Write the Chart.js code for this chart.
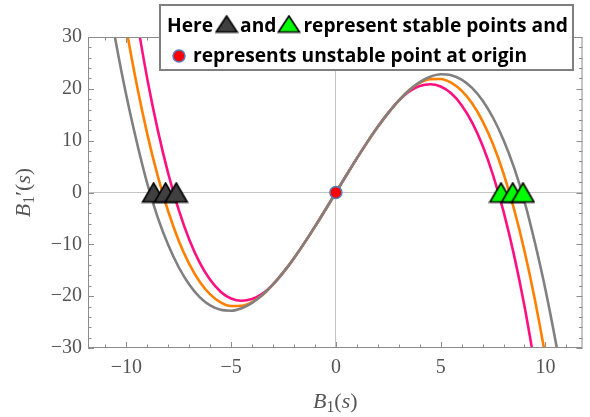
<!DOCTYPE html>
<html>
<head>
<meta charset="utf-8">
<title>B1 stability curves</title>
<script src="https://cdn.jsdelivr.net/npm/chart.js"></script>
<style>
  html, body { margin: 0; padding: 0; background: #fff; }
  #chart { display: block; }
</style>
</head>
<body>
<canvas id="chart" width="590" height="417"></canvas>
<script>
// values
const xs = [-11, -10.5, -10, -9.5, -9, -8.5, -8, -7.5, -7, -6.5, -6, -5.5, -5, -4.5, -4, -3.5, -3, -2.5, -2, -1.5, -1, -0.5,
  0, 0.5, 1, 1.5, 2, 2.5, 3, 3.5, 4, 4.5, 5, 5.5, 6, 6.5, 7, 7.5, 8, 8.5, 9, 9.5, 10, 10.5, 11];
const grayCurve = [40.5, 29.0, 18.7, 9.7, 1.7, -4.86, -10.15, -14.42, -17.74, -20.18, -21.79, -22.64, -22.80, -22.32, -21.28, -19.73, -17.73, -15.36, -12.67, -9.72, -6.59, -3.32,
  0, 3.32, 6.59, 9.72, 12.67, 15.36, 17.73, 19.73, 21.28, 22.32, 22.80, 22.64, 21.79, 20.18, 17.74, 14.42, 10.15, 4.86, -1.7, -9.7, -18.7, -29.0, -40.5];
const orangeCurve = [null, 44.0, 31.63, 20.73, 11.26, 3.16, -3.67, -9.29, -13.77, -17.20, -19.65, -21.20, -21.91, -21.87, -21.15, -19.78, -17.73, -15.36, -12.67, -9.72, -6.59, -3.32,
  0, 3.32, 6.59, 9.72, 12.67, 15.36, 17.73, 19.78, 21.15, 21.87, 21.91, 21.20, 19.65, 17.20, 13.77, 9.29, 3.67, -3.16, -11.26, -20.73, -31.63, -44.0, null];
const pinkCurve = [null, null, null, 33.37, 21.91, 12.03, 3.63, -3.36, -9.05, -13.52, -16.85, -19.13, -20.45, -20.89, -20.55, -19.51, -17.73, -15.36, -12.67, -9.72, -6.59, -3.32,
  0, 3.32, 6.59, 9.72, 12.67, 15.36, 17.73, 19.51, 20.55, 20.89, 20.45, 19.13, 16.85, 13.52, 9.05, 3.36, -3.63, -12.03, -21.91, -33.37, null, null, null];
const stableLeft = [-8.70, -8.13, -7.62];
const stableRight = [7.88, 8.44, 8.93];
const unstable = [0];
const xTicks = [-10, -5, 0, 5, 10];
const yTicks = [-30, -20, -10, 0, 10, 20, 30];

const pts = arr => xs.map((x, i) => ({ x: x, y: arr[i] }));
const onAxis = arr => arr.map(x => ({ x: x, y: 0 }));
const minus = v => v < 0 ? '\u2212' + Math.abs(v) : String(v);

function triangle(fill, w, h) {
  const c = document.createElement('canvas');
  c.width = w + 3; c.height = h + 3;
  const g = c.getContext('2d');
  g.beginPath();
  g.moveTo(1.5 + w / 2, 1.5);
  g.lineTo(1.5 + w, 1.5 + h);
  g.lineTo(1.5, 1.5 + h);
  g.closePath();
  g.fillStyle = fill;
  g.fill();
  g.lineWidth = 1.6;
  g.strokeStyle = '#000';
  g.stroke();
  return c;
}
const darkTri = triangle('#404040', 22, 19);
const greenTri = triangle('#00ff00', 22, 19);

// mixed style axis label: B (italic) 1 (subscript) ...
function drawLabel(ctx, parts, size) {
  let total = 0;
  parts.forEach(p => {
    ctx.font = (p.it ? 'italic ' : '') + (p.sub ? size * 0.72 : size) + 'px "Liberation Serif"';
    p.w = ctx.measureText(p.t).width;
    total += p.w;
  });
  let x = -total / 2;
  parts.forEach(p => {
    ctx.font = (p.it ? 'italic ' : '') + (p.sub ? size * 0.72 : size) + 'px "Liberation Serif"';
    ctx.fillText(p.t, x, p.sub ? size * 0.25 : 0);
    x += p.w;
  });
}

const frame = {
  id: 'frame',
  afterDatasetsDraw(chart) {
    const { ctx, chartArea: a, scales: { x, y } } = chart;
    ctx.save();
    ctx.strokeStyle = '#8c8c8c';
    ctx.lineWidth = 1;
    ctx.strokeRect(a.left + 0.5, a.top + 0.5, a.right - a.left - 1, a.bottom - a.top - 1);
    ctx.beginPath();
    for (let v = -11; v <= 11; v++) {
      const px = Math.round(x.getPixelForValue(v)) + 0.5;
      const len = v % 5 === 0 ? 6 : 3.5;
      ctx.moveTo(px, a.bottom); ctx.lineTo(px, a.bottom - len);
      ctx.moveTo(px, a.top); ctx.lineTo(px, a.top + len);
    }
    for (let v = -30; v <= 30; v += 2) {
      const py = Math.round(y.getPixelForValue(v)) + 0.5;
      const len = v % 10 === 0 ? 6 : 3.5;
      ctx.moveTo(a.left, py); ctx.lineTo(a.left + len, py);
      ctx.moveTo(a.right, py); ctx.lineTo(a.right - len, py);
    }
    ctx.stroke();
    ctx.restore();
  },
  afterDraw(chart) {
    const ctx = chart.ctx;
    const a = chart.chartArea;
    ctx.save();
    ctx.fillStyle = '#555';
    ctx.textBaseline = 'middle';
    ctx.textAlign = 'left';
    ctx.translate((a.left + a.right) / 2, 402);
    drawLabel(ctx, [{ t: 'B', it: true }, { t: '1', sub: true }, { t: '(' }, { t: 's', it: true }, { t: ')' }], 22);
    ctx.restore();
    ctx.save();
    ctx.fillStyle = '#555';
    ctx.textBaseline = 'middle';
    ctx.translate(24, chart.scales.y.getPixelForValue(0));
    ctx.rotate(-Math.PI / 2);
    drawLabel(ctx, [{ t: 'B', it: true }, { t: '1', sub: true }, { t: '\u2032' }, { t: '(' }, { t: 's', it: true }, { t: ')' }], 22);
    ctx.restore();

    // legend box
    ctx.save();
    ctx.fillStyle = '#fff';
    ctx.fillRect(160, 5, 413, 65);
    ctx.strokeStyle = '#7f7f7f';
    ctx.lineWidth = 2;
    ctx.strokeRect(160, 5, 413, 65);
    ctx.fillStyle = '#000';
    ctx.font = 'bold 19.2px "Open Sans"';
    ctx.textBaseline = 'alphabetic';
    let cx = 167;
    const b1 = 32, b2 = 62;
    ctx.fillText('Here', cx, b1); cx += ctx.measureText('Here').width + 3;
    ctx.drawImage(triangle('#404040', 21, 16), cx - 1.5, b1 - 17.5); cx += 22 + 2;
    ctx.fillText('and', cx, b1); cx += ctx.measureText('and').width + 2;
    ctx.drawImage(triangle('#00ff00', 21, 16), cx - 1.5, b1 - 17.5); cx += 22 + 3;
    ctx.fillText('represent stable points and', cx, b1);
    ctx.beginPath();
    ctx.arc(179, 56, 6, 0, Math.PI * 2);
    ctx.fillStyle = '#ff0000';
    ctx.fill();
    ctx.lineWidth = 1.5;
    ctx.strokeStyle = '#4f81bd';
    ctx.stroke();
    ctx.fillStyle = '#000';
    ctx.fillText('represents unstable point at origin', 193, b2);
    ctx.restore();
  }
};

new Chart(document.getElementById('chart'), {
  type: 'line',
  data: {
    datasets: [
      { data: onAxis(unstable), showLine: false, pointStyle: 'circle', pointRadius: 6,
        pointBackgroundColor: '#ff0000', pointBorderColor: '#4f81bd', pointBorderWidth: 1.5, clip: false },
      { data: onAxis(stableRight), showLine: false, pointStyle: greenTri, clip: false },
      { data: onAxis(stableLeft), showLine: false, pointStyle: darkTri, clip: false },
      { data: pts(grayCurve), borderColor: '#808080', borderWidth: 2.6, pointRadius: 0, clip: 0 },
      { data: pts(orangeCurve), borderColor: '#ff8000', borderWidth: 2.6, pointRadius: 0, clip: 0 },
      { data: pts(pinkCurve), borderColor: '#ff1080', borderWidth: 2.6, pointRadius: 0, clip: 0 }
    ]
  },
  options: {
    responsive: false,
    animation: false,
    events: [],
    cubicInterpolationMode: 'monotone',
    layout: { padding: { top: 37, right: 1, left: 0, bottom: 0 } },
    plugins: { legend: { display: false }, tooltip: { enabled: false } },
    scales: {
      x: {
        type: 'linear', min: -11.83, max: 11.77,
        afterBuildTicks: s => { s.ticks = xTicks.map(v => ({ value: v })); },
        afterFit: s => { s.height = 69; },
        border: { display: false },
        grid: { drawTicks: false, color: c => c.tick && c.tick.value === 0 ? '#c4c4c4' : 'transparent' },
        ticks: { padding: 8, color: '#555', font: { family: 'Liberation Serif', size: 20 }, callback: v => minus(v), maxRotation: 0 }
      },
      y: {
        type: 'linear', min: -30, max: 30,
        afterBuildTicks: s => { s.ticks = yTicks.map(v => ({ value: v })); },
        afterFit: s => { s.width = 88; },
        border: { display: false },
        grid: { drawTicks: false, color: c => c.tick && c.tick.value === 0 ? '#c4c4c4' : 'transparent' },
        ticks: { padding: 6, color: '#555', font: { family: 'Liberation Serif', size: 20 }, callback: v => minus(v) }
      }
    }
  },
  plugins: [frame]
});
</script>
</body>
</html>
